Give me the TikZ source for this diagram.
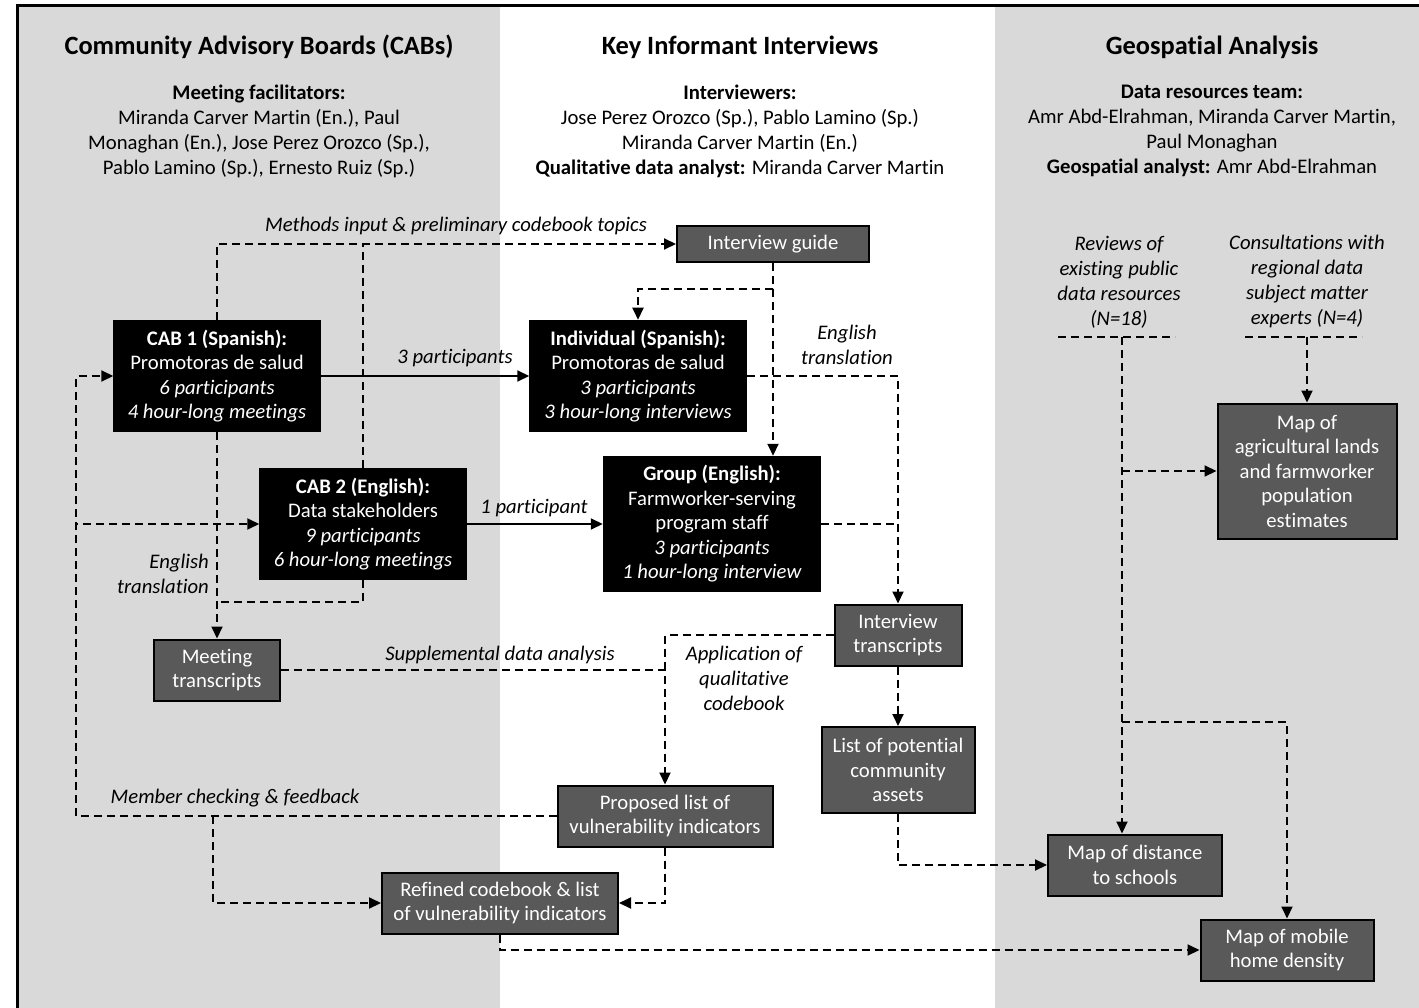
\documentclass[tikz,border=0pt]{standalone}
\usepackage{fontspec}
\setmainfont{Carlito}[Ligatures=NoCommon]
\usetikzlibrary{arrows.meta}
\definecolor{panelgray}{HTML}{D9D9D9}
\definecolor{boxgray}{HTML}{595959}
\tikzset{
  txt/.style={font=\fontsize{20.7}{25}\selectfont, align=center, inner sep=0pt},
  hdr/.style={font=\fontsize{26.4}{30}\selectfont\bfseries, inner sep=0pt},
  blackbox/.style={draw=black, fill=black, text=white, line width=1.5pt, align=center, inner sep=0pt, font=\fontsize{20.7}{24.5}\selectfont},
  graybox/.style={draw=black, fill=boxgray, text=white, line width=2pt, align=center, inner sep=0pt, font=\fontsize{20.7}{24.5}\selectfont},
  dl/.style={line width=2pt, dash pattern=on 8pt off 5pt},
  dla/.style={dl, -{Triangle[length=12pt,width=11pt]}},
  sla/.style={line width=2pt, -{Triangle[length=12pt,width=11pt]}},
  lbl/.style={font=\fontsize{20.7}{25}\selectfont\itshape, align=center, inner sep=0pt}
}
\begin{document}
\begin{tikzpicture}[x=1pt,y=-1pt]
\useasboundingbox (0,0) rectangle (1419,1008);
% panels
\fill[panelgray] (17,6) rectangle (500,1008);
\fill[panelgray] (995,6) rectangle (1419,1008);
\draw[line width=3pt] (17,1008) -- (17,6) -- (1419,6);

% headers
\node[hdr] (h1) at (259,47) {Community Advisory Boards (CABs)};
\node[txt] (t1) at (259,131) {\textbf{Meeting facilitators:}\\Miranda Carver Martin (En.), Paul\\Monaghan (En.), Jose Perez Orozco (Sp.),\\Pablo Lamino (Sp.), Ernesto Ruiz (Sp.)};
\node[hdr] (h2) at (740,47) {Key Informant Interviews};
\node[txt] (t2) at (740,131) {\textbf{Interviewers:}\\Jose Perez Orozco (Sp.), Pablo Lamino (Sp.)\\Miranda Carver Martin (En.)\\\textbf{Qualitative data analyst:} Miranda Carver Martin};
\node[hdr] (h3) at (1212,47) {Geospatial Analysis};
\node[txt] (t3) at (1212,131) {\textbf{Data resources team:}\\Amr Abd-Elrahman, Miranda Carver Martin,\\Paul Monaghan\\\textbf{Geospatial analyst:} Amr Abd-Elrahman};

% boxes
\node[blackbox, minimum width=206pt, minimum height=111pt] (cab1) at (217,376) {\textbf{CAB 1 (Spanish):}\\Promotoras de salud\\\textit{6 participants}\\\textit{4 hour-long meetings}};
\node[blackbox, minimum width=206pt, minimum height=111pt] (cab2) at (363,524) {\textbf{CAB 2 (English):}\\Data stakeholders\\\textit{9 participants}\\\textit{6 hour-long meetings}};
\node[blackbox, minimum width=216pt, minimum height=111pt] (indiv) at (638,376) {\textbf{Individual (Spanish):}\\Promotoras de salud\\\textit{3 participants}\\\textit{3 hour-long interviews}};
\node[blackbox, minimum width=217pt, minimum height=135pt] (group) at (712,524) {\textbf{Group (English):}\\Farmworker-serving\\program staff\\\textit{3 participants}\\\textit{1 hour-long interview}};
\node[graybox, minimum width=192pt, minimum height=36pt] (guide) at (773,244) {Interview guide};
\node[graybox, minimum width=127pt, minimum height=61pt] (itrans) at (898,635) {Interview\\transcripts};
\node[graybox, minimum width=126pt, minimum height=61pt] (mtrans) at (217,670) {Meeting\\transcripts};
\node[graybox, minimum width=153pt, minimum height=86pt] (list) at (898,770) {List of potential\\community\\assets};
\node[graybox, minimum width=215pt, minimum height=61pt] (prop) at (665,816) {Proposed list of\\vulnerability indicators};
\node[graybox, minimum width=236pt, minimum height=61pt] (ref) at (500,903) {Refined codebook \& list\\of vulnerability indicators};
\node[graybox, minimum width=179pt, minimum height=135pt] (agri) at (1307,471) {Map of\\agricultural lands\\and farmworker\\population\\estimates};
\node[graybox, minimum width=174pt, minimum height=61pt] (mapdist) at (1135,865) {Map of distance\\to schools};
\node[graybox, minimum width=173pt, minimum height=61pt] (mobile) at (1287,950) {Map of mobile\\home density};

% labels
\node[lbl] (l1) at (456,226) {Methods input \& preliminary codebook topics};
\node[lbl] (l2) at (455,358) {3 participants};
\node[lbl] (l3) at (534,508) {1 participant};
\node[lbl] (l4) at (847,345) {English\\translation};
\node[lbl, anchor=east, align=right] (l5) at (209,574) {English\\translation};
\node[lbl] (l6) at (500,655) {Supplemental data analysis};
\node[lbl] (l7) at (744,678) {Application of\\qualitative\\codebook};
\node[lbl] (l8) at (235,798) {Member checking \& feedback};
\node[lbl] (l9) at (1119,282) {Reviews of\\existing public\\data resources\\(N=18)};
\node[lbl] (l10) at (1307,281) {Consultations with\\regional data\\subject matter\\experts (N=4)};

% coordinates
\coordinate (j1) at (217,602);
\coordinate (mcl) at (76,816);
\coordinate (mcb) at (213,816);
\coordinate (rvl) at (1058,337);
\coordinate (rvr) at (1175,337);
\coordinate (rv) at (1122,337);
\coordinate (csl) at (1245,337);
\coordinate (csr) at (1362,337);
\coordinate (cs) at (1307,337);
\coordinate (rb) at (1122,722);

% connectors
\draw[dla] (cab1.north) |- (guide.west);
\draw[dl] (cab2.north) -- (cab2.north |- guide.west);
\draw[sla] (cab1.east) -- (indiv.west);
\draw[sla] (cab2.east) -- (group.west);
\draw[dla] (guide.south) -- ++(0,26) -| (indiv.north);
\draw[dla] (guide.south) -- (guide.south |- group.north);
\draw[dla] (indiv.east) -| (itrans.north);
\draw[dl] (group.east) -- (itrans.north |- group.east);
\draw[dla] (cab1.south) -- (mtrans.north);
\draw[dl] (cab2.south) |- (j1);
\draw[dla] (mtrans.east) -| (prop.north);
\draw[dl] (itrans.west) -| (prop.north |- mtrans.east);
\draw[dla] (itrans.south) -- (list.north);
\draw[dla] (list.south) |- (mapdist.west);
\draw[dla] (prop.west) -- (mcl) |- (cab1.west);
\draw[dla] (mcl) |- (cab2.west);
\draw[dla] (mcb) |- (ref.west);
\draw[dla] (prop.south) |- (ref.east);
\draw[dla] (ref.south) |- (mobile.west);
\draw[dl] (rvl) -- (rvr);
\draw[dla] (rv) -- (rv |- mapdist.north);
\draw[dla] (rv |- agri.west) -- (agri.west);
\draw[dla] (rb) -| (mobile.north);
\draw[dl] (csl) -- (csr);
\draw[dla] (cs) -- (agri.north);
\end{tikzpicture}
\end{document}
